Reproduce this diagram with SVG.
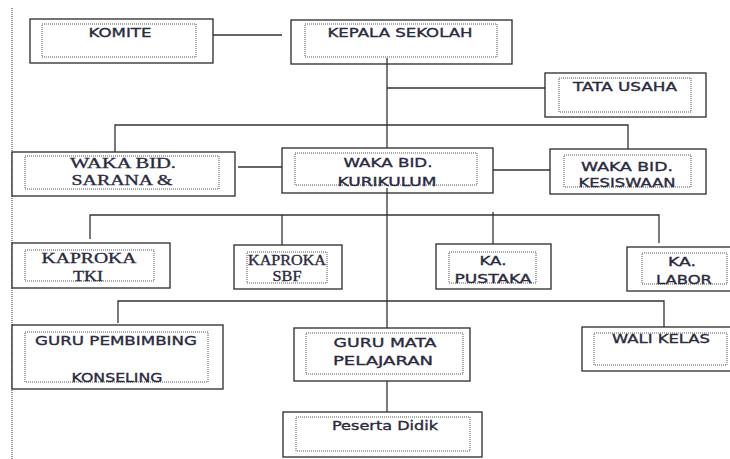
<svg xmlns="http://www.w3.org/2000/svg" width="730" height="459" viewBox="0 0 730 459">
<style>
.o{fill:#fff;stroke:#2a2a2a;stroke-width:1.3}
.i{fill:none;stroke:#555;stroke-width:1;stroke-dasharray:1 1}
.c{fill:none;stroke:#333;stroke-width:1.3}
.s{font-family:"DejaVu Sans","Liberation Sans",sans-serif;font-size:12.5px;fill:#2a2a40;stroke:#2a2a40;stroke-width:0.35;text-anchor:middle}
.r{font-family:"Liberation Serif","DejaVu Serif",serif;font-size:15px;fill:#2a2a40;stroke:#2a2a40;stroke-width:0.35;text-anchor:middle}
</style>
<line x1="12" y1="8" x2="12" y2="459" stroke="#333" stroke-width="1" stroke-dasharray="1 1"/>
<g id="connectors">
<path class="c" d="M213 35H282"/>
<path class="c" d="M387 88H545"/>
<path class="c" d="M115 152V125H628V149"/>
<path class="c" d="M238 167H282"/>
<path class="c" d="M493 170H550"/>
<path class="c" d="M90 239V215H659V243"/>
<path class="c" d="M282 215V245"/>
<path class="c" d="M493 212V244"/>
<path class="c" d="M118 323V301H664V327"/>
<path class="c" d="M387 64V148"/>
<path class="c" d="M387 193V328"/>
<path class="c" d="M387 381V412"/>
</g>
<g id="komite">
<rect class="o" x="30" y="19" width="183" height="44"/>
<rect class="i" x="42" y="24" width="154" height="33"/>
<text class="s" x="120" y="37" textLength="63" lengthAdjust="spacingAndGlyphs">KOMITE</text>
</g>
<g id="kepala">
<rect class="o" x="291" y="20" width="221" height="44"/>
<rect class="i" x="305" y="24" width="192" height="33"/>
<text class="s" x="400" y="37" textLength="145" lengthAdjust="spacingAndGlyphs">KEPALA SEKOLAH</text>
</g>
<path class="c" d="M387 58V64"/>
<g id="tata-usaha">
<rect class="o" x="545" y="73" width="161" height="44"/>
<rect class="i" x="559" y="78" width="132" height="34"/>
<text class="s" x="625" y="91" textLength="104" lengthAdjust="spacingAndGlyphs">TATA USAHA</text>
</g>
<g id="waka-sarana">
<rect class="o" x="12" y="152" width="223" height="44"/>
<rect class="i" x="25" y="156" width="194" height="33"/>
<text class="r" x="123" y="168" textLength="106" lengthAdjust="spacingAndGlyphs">WAKA BID.</text>
<text class="r" x="122" y="185" textLength="101" lengthAdjust="spacingAndGlyphs">SARANA &amp;</text>
</g>
<g id="waka-kurikulum">
<rect class="o" x="282" y="148" width="211" height="45"/>
<rect class="i" x="295" y="153" width="182" height="32"/>
<text class="s" x="388" y="167" textLength="89" lengthAdjust="spacingAndGlyphs">WAKA BID.</text>
<text class="s" x="387" y="186" textLength="99" lengthAdjust="spacingAndGlyphs">KURIKULUM</text>
</g>
<path class="c" d="M387 188V193"/>
<g id="waka-kesiswaan">
<rect class="o" x="550" y="149" width="156" height="45"/>
<rect class="i" x="564" y="155" width="127" height="32"/>
<text class="s" x="627" y="171" textLength="92" lengthAdjust="spacingAndGlyphs">WAKA BID.</text>
<text class="s" x="627" y="187" textLength="97" lengthAdjust="spacingAndGlyphs">KESISWAAN</text>
</g>
<g id="kaproka-tki">
<rect class="o" x="12" y="243" width="158" height="45"/>
<rect class="i" x="25" y="250" width="129" height="31"/>
<text class="r" x="89" y="263" font-size="16" textLength="95" lengthAdjust="spacingAndGlyphs">KAPROKA</text>
<text class="r" x="88" y="281" font-size="16" textLength="30" lengthAdjust="spacingAndGlyphs">TKI</text>
</g>
<g id="kaproka-sbf">
<rect class="o" x="234" y="245" width="108" height="44"/>
<rect class="i" x="247" y="252" width="80" height="31"/>
<text class="r" x="287" y="265" font-size="13" textLength="78" lengthAdjust="spacingAndGlyphs">KAPROKA</text>
<text class="r" x="287" y="281" font-size="13" textLength="29" lengthAdjust="spacingAndGlyphs">SBF</text>
</g>
<g id="ka-pustaka">
<rect class="o" x="436" y="244" width="115" height="45"/>
<rect class="i" x="449" y="252" width="87" height="31"/>
<text class="s" x="493" y="265" textLength="27" lengthAdjust="spacingAndGlyphs">KA.</text>
<text class="s" x="493" y="283" textLength="77" lengthAdjust="spacingAndGlyphs">PUSTAKA</text>
</g>
<g id="ka-labor">
<rect class="o" x="627" y="247" width="110" height="44"/>
<rect class="i" x="642" y="253" width="85" height="31"/>
<text class="s" x="682" y="266" textLength="28" lengthAdjust="spacingAndGlyphs">KA.</text>
<text class="s" x="684" y="284" textLength="56" lengthAdjust="spacingAndGlyphs">LABOR</text>
</g>
<g id="guru-pembimbing">
<rect class="o" x="12" y="325" width="211" height="64"/>
<rect class="i" x="25" y="332" width="183" height="50"/>
<text class="s" x="116" y="345" textLength="162" lengthAdjust="spacingAndGlyphs">GURU PEMBIMBING</text>
<text class="s" x="117" y="382" textLength="91" lengthAdjust="spacingAndGlyphs">KONSELING</text>
</g>
<g id="guru-mata-pelajaran">
<rect class="o" x="294" y="328" width="176" height="53"/>
<rect class="i" x="306" y="333" width="157" height="41"/>
<text class="s" x="385" y="347" textLength="103" lengthAdjust="spacingAndGlyphs">GURU MATA</text>
<text class="s" x="383" y="365" textLength="100" lengthAdjust="spacingAndGlyphs">PELAJARAN</text>
</g>
<g id="wali-kelas">
<rect class="o" x="582" y="327" width="155" height="44"/>
<rect class="i" x="594" y="333" width="133" height="32"/>
<text class="s" x="661" y="343" textLength="98" lengthAdjust="spacingAndGlyphs">WALI KELAS</text>
</g>
<g id="peserta-didik">
<rect class="o" x="283" y="412" width="199" height="45"/>
<rect class="i" x="296" y="417" width="174" height="34"/>
<text class="s" x="385" y="430" font-size="12" textLength="106" lengthAdjust="spacingAndGlyphs">Peserta Didik</text>
</g>
</svg>
